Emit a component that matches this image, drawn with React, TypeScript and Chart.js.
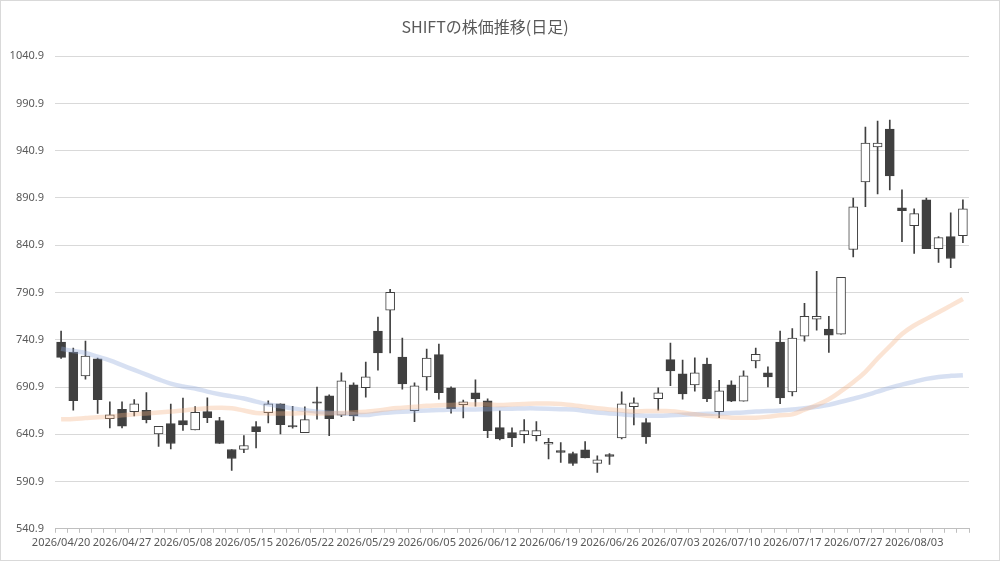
import React, { useEffect, useRef } from 'react'
import { Chart, registerables } from 'chart.js'

Chart.register(...registerables)

const dates = [
  '2026/04/20', '2026/04/21', '2026/04/22', '2026/04/23', '2026/04/24',
  '2026/04/27', '2026/04/28', '2026/04/30', '2026/05/01', '2026/05/07',
  '2026/05/08', '2026/05/11', '2026/05/12', '2026/05/13', '2026/05/14',
  '2026/05/15', '2026/05/18', '2026/05/19', '2026/05/20', '2026/05/21',
  '2026/05/22', '2026/05/25', '2026/05/26', '2026/05/27', '2026/05/28',
  '2026/05/29', '2026/06/01', '2026/06/02', '2026/06/03', '2026/06/04',
  '2026/06/05', '2026/06/08', '2026/06/09', '2026/06/10', '2026/06/11',
  '2026/06/12', '2026/06/15', '2026/06/16', '2026/06/17', '2026/06/18',
  '2026/06/19', '2026/06/22', '2026/06/23', '2026/06/24', '2026/06/25',
  '2026/06/26', '2026/06/29', '2026/06/30', '2026/07/01', '2026/07/02',
  '2026/07/03', '2026/07/06', '2026/07/07', '2026/07/08', '2026/07/09',
  '2026/07/10', '2026/07/13', '2026/07/14', '2026/07/15', '2026/07/16',
  '2026/07/17', '2026/07/21', '2026/07/22', '2026/07/23', '2026/07/24',
  '2026/07/27', '2026/07/28', '2026/07/29', '2026/07/30', '2026/07/31',
  '2026/08/03', '2026/08/04', '2026/08/05', '2026/08/06', '2026/08/07',
]

const open = [
  738.5, 727.9, 702.7, 720.6, 657.4, 667.2, 664.8, 666.2, 641.2, 652.2,
  655.3, 645.4, 664.8, 655.3, 624.8, 624.8, 649.0, 663.7, 673.2, 650.1,
  642.7, 675.3, 681.6, 661.2, 693.2, 690.1, 750.1, 772.2, 722.7, 665.8,
  701.6, 725.1, 690.1, 672.2, 684.8, 676.4, 647.9, 642.7, 640.6, 639.5,
  630.4, 623.7, 620.6, 624.4, 610.0, 619.5, 637.0, 670.1, 653.2, 678.5,
  719.8, 704.8, 693.2, 715.3, 664.8, 693.2, 675.9, 718.5, 705.8, 738.5,
  685.8, 744.8, 762.7, 752.2, 746.9, 836.4, 907.9, 944.8, 963.7, 880.6,
  861.6, 889.0, 837.4, 850.0, 851.1,
]
const high = [
  750.1, 732.2, 739.5, 721.6, 675.3, 675.3, 677.7, 685.1, 649.3, 672.8,
  679.1, 670.1, 679.5, 658.8, 624.8, 639.5, 654.3, 676.4, 673.2, 670.4,
  670.0, 690.9, 682.7, 705.8, 695.3, 717.4, 764.8, 794.3, 742.7, 695.3,
  731.1, 736.4, 691.1, 677.0, 698.5, 678.5, 665.8, 647.7, 656.4, 654.3,
  636.5, 632.1, 622.0, 633.2, 618.0, 620.5, 685.8, 679.5, 657.4, 690.1,
  737.4, 719.5, 721.9, 721.6, 698.1, 697.4, 708.0, 732.2, 712.2, 750.1,
  752.8, 779.5, 813.2, 765.8, 806.9, 890.9, 965.8, 972.2, 973.2, 899.5,
  879.5, 890.9, 850.0, 875.3, 889.0,
]
const low = [
  721.2, 666.5, 699.1, 663.0, 647.5, 647.5, 660.2, 652.8, 628.0, 625.4,
  645.1, 645.4, 653.1, 631.1, 602.7, 621.4, 626.5, 652.8, 641.2, 647.4,
  642.7, 656.9, 639.5, 659.5, 655.3, 680.2, 708.6, 726.9, 688.6, 654.3,
  687.5, 678.1, 663.3, 658.1, 670.7, 637.4, 634.9, 627.8, 631.8, 633.8,
  614.9, 611.2, 608.0, 616.0, 600.5, 608.9, 635.9, 650.7, 631.2, 666.5,
  692.2, 678.1, 686.5, 675.3, 658.5, 675.3, 675.9, 711.1, 691.1, 673.2,
  681.6, 739.5, 751.1, 727.5, 746.9, 828.6, 881.6, 895.3, 899.5, 844.8,
  832.2, 837.4, 822.7, 817.1, 843.7,
]
const close = [
  722.3, 676.4, 723.7, 677.4, 661.6, 649.6, 673.2, 656.4, 649.3, 631.1,
  650.7, 664.1, 658.5, 631.1, 615.3, 629.0, 643.7, 673.2, 651.1, 648.6,
  656.4, 673.8, 657.4, 697.4, 660.2, 701.6, 726.9, 791.1, 694.3, 692.2,
  721.6, 684.8, 667.9, 675.3, 678.5, 644.8, 635.9, 637.0, 644.8, 644.8,
  632.5, 621.6, 610.0, 616.0, 613.8, 617.4, 673.2, 674.3, 638.1, 684.8,
  707.9, 683.7, 705.8, 678.5, 686.9, 675.9, 702.7, 725.4, 701.6, 679.5,
  742.7, 765.8, 765.8, 745.8, 806.9, 881.6, 949.0, 949.0, 914.3, 877.4,
  874.3, 837.4, 849.0, 826.9, 879.5,
]

// moving averages
const maShort = [
  656.7, 657.0, 658.0, 659.0, 659.5, 661.0, 662.0, 663.0, 664.0, 665.0,
  666.0, 667.5, 668.5, 669.0, 668.5, 666.0, 663.5, 663.0, 663.0, 663.0,
  663.4, 663.0, 663.0, 663.4, 664.0, 664.8, 666.0, 668.0, 669.0, 670.0,
  671.0, 671.5, 672.0, 672.5, 672.5, 672.5, 672.0, 672.5, 673.0, 673.5,
  673.5, 673.0, 671.7, 670.0, 668.5, 667.2, 666.0, 665.0, 665.4, 665.4,
  665.4, 664.0, 662.0, 660.5, 659.5, 658.5, 658.5, 658.5, 659.5, 661.0,
  662.0, 667.0, 671.7, 678.0, 686.5, 696.0, 707.0, 721.0, 734.0, 747.0,
  756.0, 763.0, 770.0, 777.0, 784.0,
]
const maLong = [
  731.4, 729.0, 726.9, 723.0, 719.0, 714.0, 709.0, 704.0, 699.0, 694.5,
  691.5, 689.3, 686.0, 683.3, 681.0, 678.8, 675.5, 672.5, 670.5, 668.3,
  666.5, 664.8, 663.8, 663.0, 662.0, 661.2, 663.0, 664.0, 664.8, 665.4,
  666.0, 666.5, 667.0, 667.0, 667.2, 667.5, 667.8, 668.0, 668.3, 668.3,
  668.0, 667.5, 667.2, 665.5, 664.0, 663.0, 662.0, 661.0, 660.5, 660.6,
  661.0, 661.5, 662.0, 662.5, 663.0, 663.5, 664.0, 665.0, 665.5, 666.0,
  667.0, 668.5, 670.0, 672.0, 675.3, 678.5, 682.0, 686.0, 690.0, 693.5,
  696.5, 699.5, 701.5, 702.7, 703.4,
]

const yTicks = [540.9, 1040.9, 50]

const DARK = '#404040'

export default function App() {
  const canvasRef = useRef<HTMLCanvasElement | null>(null)
  const chartRef = useRef<Chart | null>(null)

  useEffect(() => {
    if (!canvasRef.current) return
    const ctx = canvasRef.current.getContext('2d')
    if (!ctx) return

    const bodies = dates.map((_, i) => [open[i], close[i]])
    const wicks = dates.map((_, i) => [low[i], high[i]])
    const bodyFill = dates.map((_, i) => (close[i] < open[i] ? DARK : '#ffffff'))

    chartRef.current = new Chart(ctx, {
      type: 'bar',
      data: {
        labels: dates,
        datasets: [
          {
            type: 'line',
            label: 'MA short',
            data: maShort,
            borderColor: 'rgba(244, 177, 131, 0.35)',
            borderWidth: 4.5,
            pointRadius: 0,
            tension: 0.4,
            order: 0,
          } as any,
          {
            type: 'line',
            label: 'MA long',
            data: maLong,
            borderColor: 'rgba(143, 170, 220, 0.36)',
            borderWidth: 4.5,
            pointRadius: 0,
            tension: 0.4,
            order: 0,
          } as any,
          {
            label: 'body',
            data: bodies as any,
            backgroundColor: bodyFill,
            borderColor: DARK,
            borderWidth: 1,
            borderSkipped: false,
            barThickness: 9,
            grouped: false,
            order: 1,
          } as any,
          {
            label: 'wick',
            data: wicks as any,
            backgroundColor: DARK,
            borderWidth: 0,
            barThickness: 1,
            grouped: false,
            order: 2,
          } as any,
        ],
      },
      options: {
        responsive: true,
        maintainAspectRatio: false,
        animation: false,
        layout: { padding: { left: 0, right: 30, top: 0, bottom: 8 } },
        plugins: {
          legend: { display: false },
          tooltip: { enabled: false },
          title: {
            display: true,
            text: 'SHIFTの株価推移(日足)',
            color: '#595959',
            font: { family: '"Noto Sans CJK JP", "Noto Sans", sans-serif', size: 16, weight: 'normal' },
            padding: { top: 16, bottom: 20 },
          },
        },
        scales: {
          x: {
            offset: true,
            grid: {
              display: true,
              drawOnChartArea: false,
              drawTicks: true,
              tickLength: 4,
              color: '#bfbfbf',
              offset: true,
            },
            border: { display: true, color: '#bfbfbf' },
            ticks: {
              autoSkip: false,
              maxRotation: 0,
              minRotation: 0,
              padding: 3,
              color: '#595959',
              font: { family: '"Noto Sans", sans-serif', size: 11 },
              callback: (_v: any, i: number) => (i % 5 === 0 ? dates[i] : ''),
            },
          },
          y: {
            min: yTicks[0],
            max: yTicks[1],
            afterFit: (s: any) => {
              s.width = 54
            },
            grid: { color: '#d9d9d9', drawTicks: false },
            border: { display: false },
            ticks: {
              stepSize: yTicks[2],
              padding: 11,
              color: '#595959',
              font: { family: '"Noto Sans", sans-serif', size: 11 },
              callback: (v: any) => Number(v).toFixed(1),
            },
          },
        },
      },
    })

    return () => {
      if (chartRef.current) {
        chartRef.current.destroy()
        chartRef.current = null
      }
    }
  }, [])

  return (
    <div
      style={{
        position: 'absolute',
        left: 0,
        top: 0,
        width: 1000,
        height: 561,
        boxSizing: 'border-box',
        border: '1px solid #d9d9d9',
        background: '#ffffff',
      }}
    >
      <canvas ref={canvasRef} />
    </div>
  )
}
